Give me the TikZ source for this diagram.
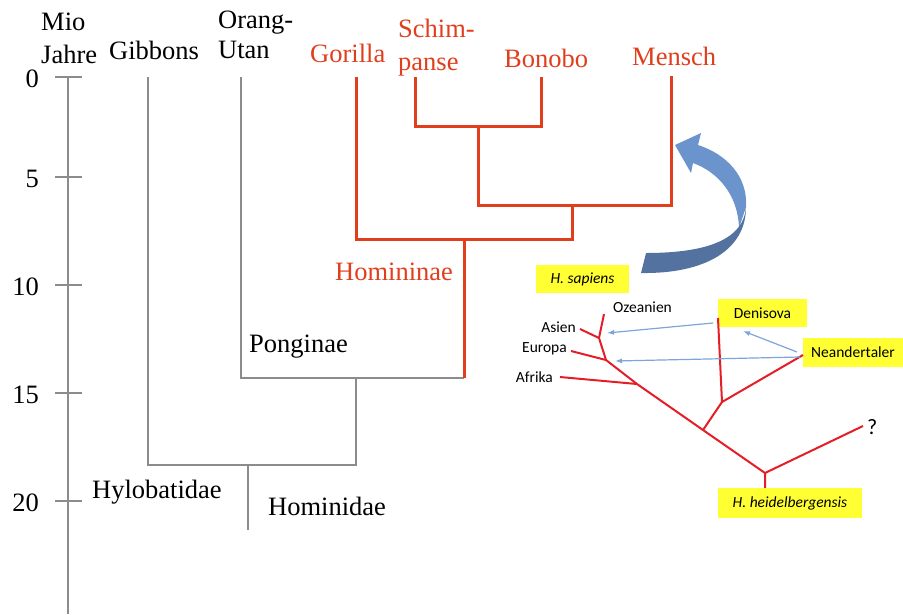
\documentclass[tikz,border=0pt]{standalone}
\usepackage{fontspec}
\setmainfont{Liberation Serif}
\newfontfamily\insetfont{Carlito}
\usetikzlibrary{arrows.meta}
\definecolor{apered}{RGB}{224,62,28}
\definecolor{treered}{RGB}{228,30,38}
\definecolor{flowblue}{RGB}{125,165,218}
\definecolor{bendlight}{RGB}{108,148,204}
\definecolor{benddark}{RGB}{84,114,160}
\definecolor{tagyellow}{RGB}{255,255,51}
\definecolor{stemgray}{RGB}{140,140,140}

\begin{document}
\begin{tikzpicture}[x=1pt,y=-1pt,
  big/.style={font=\fontsize{26.5}{33}\selectfont,inner sep=0pt,align=left},
  redname/.style={big,text=apered},
  small/.style={font=\insetfont\fontsize{15.5}{18}\selectfont,inner sep=0pt},
  tag/.style={small,fill=tagyellow,minimum height=28pt},
  stem/.style={draw=stemgray,line width=1.1pt},
  hominine/.style={draw=apered,line width=3pt},
  twig/.style={draw=treered,line width=2pt},
  flow/.style={draw=flowblue,line width=1.2pt,-{Latex[length=7pt,width=5pt]}}]
  \useasboundingbox (0,0) rectangle (903,614);

  \draw[stem] (68,77) -- (68,614);
  \foreach \val/\y in {0/77,5/177,10/285,15/393,20/501} {
    \draw[stem] (55,\y) -- (82,\y);
    \node[big,anchor=base east] (tick\val) at (39,\y+10) {\val};
  }
  \node[big,anchor=base west] (mio) at (41,63) {Mio\\Jahre};

  \node[big,anchor=base west] (gibbons) at (109,59) {Gibbons};
  \node[big,anchor=base west] (orang) at (218,58) {Orang-\\[-3pt]Utan};
  \node[redname,anchor=base west] (gorilla) at (310,62) {Gorilla};
  \node[redname,anchor=base west] (schim) at (398,70) {Schim-\\panse};
  \node[redname,anchor=base west] (bonobo) at (504,67) {Bonobo};
  \node[redname,anchor=base west] (mensch) at (632,65) {Mensch};

  \node[redname,anchor=base west] (homininae) at (335,280) {Homininae};
  \node[big,anchor=base west] (ponginae) at (249,352) {Ponginae};
  \node[big,anchor=base west] (hylobatidae) at (92,498) {Hylobatidae};
  \node[big,anchor=base west] (hominidae) at (268,515) {Hominidae};

  \coordinate (gib) at (148,77);
  \coordinate (ora) at (241,77);
  \coordinate (pon) at (356,378);
  \coordinate (hoj) at (248,465);
  \coordinate (root) at (248,530);
  \coordinate (hnn) at (464,378);
  \coordinate (gor) at (356,77);
  \coordinate (sch) at (415,77);
  \coordinate (bon) at (541,77);
  \coordinate (men) at (671,76);
  \coordinate (pan) at (478,126);
  \coordinate (hpan) at (572,205);
  \coordinate (hmn) at (464,239);

  \draw[stem] (gib) |- (hoj) -| (pon);
  \draw[stem] (ora) |- (hnn);
  \draw[stem] (hoj) -- (root);
  \draw[hominine] (sch) |- (pan) -| (bon);
  \draw[hominine] (pan) |- (hpan) -| (men);
  \draw[hominine] (gor) |- (hmn) -| (hpan);
  \draw[hominine] (hmn) -- (hnn);

  \fill[bendlight] (746,207) .. controls (748,176) and (726,154) .. (698,145)
    -- (701,133) -- (675,145) -- (691,173) -- (693,163)
    .. controls (718,172) and (738,195) .. (739,228) -- cycle;
  \fill[benddark] (641,273) .. controls (705,274) and (746,250) .. (746,207)
    .. controls (744,238) and (710,253) .. (646,253) -- cycle;

  \node[tag,minimum width=93pt] (sapiens) at (582.5,279) {\itshape H. sapiens};
  \node[tag,minimum width=89pt] (denisova) at (762.5,313) {Denisova};
  \node[tag,minimum width=100pt,minimum height=29pt] (neander) at (853,352.5) {Neandertaler};
  \node[tag,minimum width=144pt,minimum height=30pt] (heidel) at (790,503) {\itshape H. heidelbergensis};
  \node[small,anchor=west] (ozeanien) at (613,307) {Ozeanien};
  \node[small,anchor=east] (asien) at (576,327) {Asien};
  \node[small,anchor=east] (europa) at (567,349) {Europa};
  \node[small,anchor=east] (afrika) at (553,377) {Afrika};
  \node[small,font=\insetfont\fontsize{22}{24}\selectfont,anchor=west] (query) at (867,427) {?};

  \coordinate (oze) at (604,314);
  \coordinate (asi) at (580,329);
  \coordinate (j1) at (599,338);
  \coordinate (eur) at (571,351);
  \coordinate (j2) at (606,360);
  \coordinate (afr) at (560,377);
  \coordinate (j3) at (637,384);
  \coordinate (j4) at (703,430);
  \coordinate (j5) at (765,473);
  \coordinate (q) at (863,426);
  \coordinate (j6) at (722,402);
  \coordinate (den) at (718,318);
  \coordinate (nea) at (803,355);

  \draw[twig] (oze) -- (j1) -- (j2) -- (j3) -- (j4) -- (j5) -- (j5 |- heidel.north);
  \draw[twig] (asi) -- (j1);
  \draw[twig] (eur) -- (j2);
  \draw[twig] (afr) -- (j3);
  \draw[twig] (j5) -- (q);
  \draw[twig] (j4) -- (j6) -- (den);
  \draw[twig] (j6) -- (nea);

  \coordinate (d0) at (713,323);
  \coordinate (asiarr) at (607,333);
  \coordinate (n0) at (797,352);
  \coordinate (denarr) at (743,331);
  \coordinate (n1) at (800,357);
  \coordinate (eurarr) at (615,361);
  \draw[flow] (d0) -- (asiarr);
  \draw[flow] (n0) -- (denarr);
  \draw[flow] (n1) -- (eurarr);
\end{tikzpicture}
\end{document}
